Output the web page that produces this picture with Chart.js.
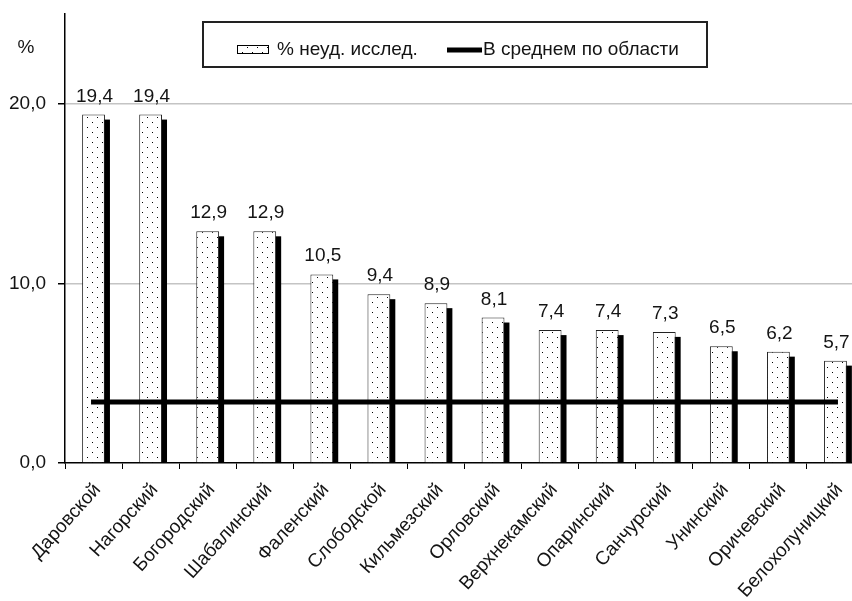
<!DOCTYPE html>
<html><head><meta charset="utf-8">
<script src="https://cdn.jsdelivr.net/npm/chart.js@4.4.1/dist/chart.umd.min.js"></script>
<style>html,body{margin:0;padding:0;background:#fff;overflow:hidden;width:852px;height:601px}canvas{display:block}</style>
</head><body>
<canvas id="c" width="864" height="601"></canvas>
<script>
// ---- data ----
const categories = ['Даровской','Нагорский','Богородский','Шабалинский','Фаленский','Слободской','Кильмезский','Орловский','Верхнекамский','Опаринский','Санчурский','Унинский','Оричевский','Белохолуницкий'];
const percentValues = [19.4, 19.4, 12.9, 12.9, 10.5, 9.4, 8.9, 8.1, 7.4, 7.4, 7.3, 6.5, 6.2, 5.7];
const averageValues = [3.4, 3.4, 3.4, 3.4, 3.4, 3.4, 3.4, 3.4, 3.4, 3.4, 3.4, 3.4, 3.4, 3.4];
const yTickValues = [0, 10, 20];
const seriesLabels = ['% неуд. исслед.', 'В среднем по области'];
const yUnitLabel = '%';

// ---- styles ----
const FONT = "'Liberation Sans', Arial, sans-serif";
const TEXT = '#141414';
Chart.defaults.font.family = FONT;
const fmt = v => Number(v).toFixed(1).replace('.', ',');

const canvas = document.getElementById('c');
const ctx0 = canvas.getContext('2d');
function makePattern() {
  const p = document.createElement('canvas');
  p.width = 10; p.height = 10;
  const g = p.getContext('2d');
  g.fillStyle = '#fff'; g.fillRect(0, 0, 10, 10);
  g.fillStyle = '#000';
  g.fillRect(2, 2, 1, 1);
  g.fillRect(7, 7, 1, 1);
  return ctx0.createPattern(p, 'repeat');
}
const dotPattern = makePattern();

const shadowPlugin = {
  id: 'barShadow',
  beforeDatasetDraw(chart, args) {
    if (args.index !== 0) return;
    const ctx = chart.ctx, a = chart.chartArea;
    ctx.save();
    ctx.beginPath();
    ctx.rect(a.left, a.top, a.right - a.left, a.bottom - a.top + 1);
    ctx.clip();
    ctx.fillStyle = '#000';
    args.meta.data.forEach(bar => {
      const p = bar.getProps(['x', 'y', 'base', 'width'], true);
      ctx.fillRect(p.x - p.width / 2 + 5, p.y + 5, p.width, p.base - p.y - 5);
    });
    ctx.restore();
  }
};

const labelPlugin = {
  id: 'valueLabels',
  afterDatasetsDraw(chart) {
    const ctx = chart.ctx;
    const meta = chart.getDatasetMeta(0);
    ctx.save();
    ctx.font = '19px ' + FONT;
    ctx.fillStyle = TEXT;
    ctx.textAlign = 'center';
    ctx.textBaseline = 'alphabetic';
    meta.data.forEach((bar, i) => {
      ctx.fillText(fmt(chart.data.datasets[0].data[i]), bar.x + 1, bar.y - 13);
    });
    ctx.fillText(yUnitLabel, 26, 53);
    ctx.restore();
  }
};

const legendPlugin = {
  id: 'boxLegend',
  afterDraw(chart) {
    const ctx = chart.ctx, ds = chart.data.datasets;
    ctx.save();
    ctx.fillStyle = '#fff';
    ctx.fillRect(202, 21, 506, 47);
    ctx.strokeStyle = '#222'; ctx.lineWidth = 2;
    ctx.strokeRect(203, 22, 504, 45);
    ctx.fillStyle = ds[0].backgroundColor;
    ctx.fillRect(237, 45, 32, 9);
    ctx.strokeStyle = '#000'; ctx.lineWidth = 1;
    ctx.strokeRect(237.5, 45.5, 31, 8);
    ctx.font = '19px ' + FONT;
    ctx.fillStyle = TEXT;
    ctx.textAlign = 'left';
    ctx.textBaseline = 'middle';
    ctx.fillText(ds[0].label, 277, 50);
    ctx.strokeStyle = '#000'; ctx.lineWidth = 5;
    ctx.beginPath(); ctx.moveTo(447, 50); ctx.lineTo(482, 50); ctx.stroke();
    ctx.fillText(ds[1].label, 483, 50);
    ctx.restore();
  }
};

new Chart(canvas, {
  type: 'bar',
  data: {
    labels: categories,
    datasets: [
      {
        type: 'bar',
        label: seriesLabels[0],
        data: percentValues,
        backgroundColor: dotPattern,
        borderColor: '#222',
        borderWidth: 1,
        barPercentage: 0.4,
        categoryPercentage: 1.0,
        order: 1
      },
      {
        type: 'line',
        label: seriesLabels[1],
        data: averageValues,
        borderColor: '#000',
        borderWidth: 5,
        borderCapStyle: 'square',
        pointRadius: 0,
        fill: false,
        order: 0
      }
    ]
  },
  options: {
    responsive: false,
    animation: false,
    layout: { padding: { top: 14, left: 0, right: 0, bottom: 0 } },
    plugins: { legend: { display: false }, tooltip: { enabled: false } },
    scales: {
      x: {
        offset: true,
        border: { display: true, color: '#000', width: 1.5 },
        grid: { offset: true, drawOnChartArea: false, drawTicks: true, tickLength: 6, color: '#000', lineWidth: 1 },
        ticks: { minRotation: 48, maxRotation: 48, autoSkip: false, font: { size: 19 }, color: TEXT, padding: 10, labelOffset: 4 },
        afterFit(scale) { scale.height = 138; scale.paddingLeft = 0; scale.paddingRight = 0; }
      },
      y: {
        min: 0, max: 25,
        border: { display: true, color: '#000', width: 1.5 },
        grid: {
          color: c => (c.tick && c.tick.value === 0) ? 'rgba(0,0,0,0)' : '#c4c4c4',
          lineWidth: 1.5,
          tickColor: '#000',
          tickLength: 7,
          drawTicks: true
        },
        ticks: { callback: v => fmt(v), font: { size: 19 }, color: TEXT, padding: 12 },
        afterBuildTicks(scale) { scale.ticks = yTickValues.map(v => ({ value: v })); },
        afterFit(scale) { scale.width = 65; scale.paddingTop = 0; scale.paddingBottom = 0; }
      }
    }
  },
  plugins: [shadowPlugin, labelPlugin, legendPlugin]
});
</script>
</body></html>
